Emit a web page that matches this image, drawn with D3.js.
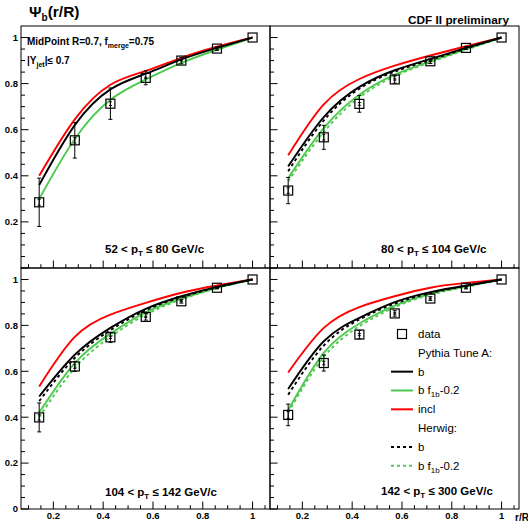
<!DOCTYPE html>
<html><head><meta charset="utf-8">
<script src="https://cdn.jsdelivr.net/npm/d3@7"></script>
<style>body{margin:0;background:#fff} svg text{font-family:"Liberation Sans",Arial,Helvetica,sans-serif}</style>
</head><body><svg id="c" width="528" height="523"></svg>
<script>
// r/R bin positions
const xVals = [0.143, 0.286, 0.429, 0.571, 0.714, 0.857, 1.0];
const xTicks = [0.2, 0.4, 0.6, 0.8, 1.0];
const xTickLabels = ["0.2", "0.4", "0.6", "0.8", "1"];
const yTicks = [0, 0.2, 0.4, 0.6, 0.8, 1.0];
const yTickLabels = ["0", "0.2", "0.4", "0.6", "0.8", "1"];

// pT bins
const ptLow = ["52", "80", "104", "142"];
const ptHigh = ["80", "104", "142", "300"];

// data (CDF II)
const dataTL = [0.285, 0.554, 0.713, 0.825, 0.900, 0.952, 1.0];
const errTL  = [0.105, 0.077, 0.068, 0.030, 0.014, 0.008, 0];
const statTL = [0.013, 0.012, 0.008, 0.003, 0.002, 0.002, 0];
const dataTR = [0.336, 0.567, 0.712, 0.818, 0.897, 0.955, 1.0];
const errTR  = [0.057, 0.052, 0.036, 0.016, 0.010, 0.006, 0];
const statTR = [0.012, 0.012, 0.006, 0.003, 0.002, 0.002, 0];
const dataBL = [0.399, 0.621, 0.748, 0.837, 0.905, 0.964, 1.0];
const errBL  = [0.063, 0.022, 0.022, 0.014, 0.008, 0.005, 0];
const statBL = [0.012, 0.008, 0.005, 0.003, 0.002, 0.002, 0];
const dataBR = [0.410, 0.636, 0.760, 0.852, 0.917, 0.964, 1.0];
const errBR  = [0.047, 0.035, 0.018, 0.012, 0.008, 0.005, 0];
const statBR = [0.015, 0.008, 0.005, 0.003, 0.002, 0.002, 0];

// Pythia Tune A: b, b f1b-0.2, incl ; Herwig: b, b f1b-0.2
const pyBTL    = [0.360, 0.620, 0.775, 0.843, 0.905, 0.955, 1.0];
const pyBfTL   = [0.300, 0.560, 0.730, 0.818, 0.890, 0.947, 1.0];
const pyInclTL = [0.400, 0.645, 0.795, 0.855, 0.912, 0.960, 1.0];

const pyBTR    = [0.441, 0.655, 0.786, 0.858, 0.907, 0.955, 1.0];
const pyBfTR   = [0.390, 0.607, 0.752, 0.839, 0.897, 0.950, 1.0];
const pyInclTR = [0.489, 0.710, 0.820, 0.878, 0.922, 0.962, 1.0];
const hwBTR    = [0.420, 0.640, 0.778, 0.852, 0.903, 0.952, 1.0];
const hwBfTR   = [0.376, 0.590, 0.740, 0.832, 0.893, 0.947, 1.0];

const pyBBL    = [0.490, 0.672, 0.789, 0.872, 0.927, 0.968, 1.0];
const pyBfBL   = [0.420, 0.636, 0.764, 0.857, 0.917, 0.964, 1.0];
const pyInclBL = [0.534, 0.750, 0.847, 0.898, 0.942, 0.974, 1.0];
const hwBBL    = [0.470, 0.658, 0.779, 0.866, 0.923, 0.965, 1.0];
const hwBfBL   = [0.400, 0.614, 0.750, 0.847, 0.913, 0.962, 1.0];

const pyBBR    = [0.523, 0.731, 0.833, 0.901, 0.945, 0.974, 1.0];
const pyBfBR   = [0.430, 0.680, 0.808, 0.886, 0.938, 0.970, 1.0];
const pyInclBR = [0.595, 0.789, 0.880, 0.927, 0.964, 0.985, 1.0];
const hwBBR    = [0.498, 0.712, 0.826, 0.895, 0.941, 0.972, 1.0];
const hwBfBR   = [0.420, 0.662, 0.796, 0.879, 0.934, 0.968, 1.0];

const GREEN = "#4dc94d", RED = "#ff0000", BLACK = "#000000";

const panels = [
  {x0:21, x1:270, y0:26, y1:268, yLab:true,  xLab:false, lx:105, ly:253, data:dataTL, err:errTL, stat:statTL,
   curves:[[pyInclTL,RED,null],[pyBfTL,GREEN,null],[pyBTL,BLACK,null]]},
  {x0:270, x1:519, y0:26, y1:268, yLab:false, xLab:false, lx:381, ly:253, data:dataTR, err:errTR, stat:statTR,
   curves:[[pyInclTR,RED,null],[hwBfTR,GREEN,"3,3"],[pyBfTR,GREEN,null],[hwBTR,BLACK,"3,3"],[pyBTR,BLACK,null]]},
  {x0:21, x1:270, y0:268, y1:509, yLab:true,  xLab:true, lx:105, ly:496, data:dataBL, err:errBL, stat:statBL,
   curves:[[pyInclBL,RED,null],[hwBfBL,GREEN,"3,3"],[pyBfBL,GREEN,null],[hwBBL,BLACK,"3,3"],[pyBBL,BLACK,null]]},
  {x0:270, x1:519, y0:268, y1:509, yLab:false, xLab:true, lx:381, ly:495, data:dataBR, err:errBR, stat:statBR,
   curves:[[pyInclBR,RED,null],[hwBfBR,GREEN,"3,3"],[pyBfBR,GREEN,null],[hwBBR,BLACK,"3,3"],[pyBBR,BLACK,null]]}
];

const svg = d3.select("#c");
const minorX = d3.range(0.10, 1.0701, 0.05);
const minorY = d3.range(0, 1.0001, 0.05);

panels.forEach((p, i) => {
  const x = d3.scaleLinear().domain([0.07, 1.07]).range([p.x0, p.x1]);
  const y = d3.scaleLinear().domain([0, 1.05]).range([p.y1, p.y0]);
  const g = svg.append("g");

  // curves
  const line = d3.line().x((d, k) => x(xVals[k])).y(d => y(d)).curve(d3.curveNatural);
  p.curves.forEach(([vals, col, dash]) => {
    g.append("path").attr("d", line(vals)).attr("fill", "none").attr("stroke", col)
      .attr("stroke-width", 1.9).attr("stroke-dasharray", dash);
  });

  // data: total error bars, stat bars, open squares
  p.data.forEach((v, k) => {
    const cx = x(xVals[k]), cy = y(v);
    if (p.err[k] > 0) {
      const yt = y(v + p.err[k]), yb = y(v - p.err[k]);
      g.append("line").attr("x1", cx).attr("x2", cx).attr("y1", yt).attr("y2", yb).attr("stroke", "#000").attr("stroke-width", 1);
      [yt, yb].forEach(yy => g.append("line").attr("x1", cx - 2).attr("x2", cx + 2).attr("y1", yy).attr("y2", yy).attr("stroke", "#000"));
    }
    if (p.stat[k] > 0) {
      const yt = y(v + p.stat[k]), yb = y(v - p.stat[k]);
      g.append("line").attr("x1", cx).attr("x2", cx).attr("y1", yt).attr("y2", yb).attr("stroke", "#000");
      [yt, yb].forEach(yy => g.append("line").attr("x1", cx - 1.5).attr("x2", cx + 1.5).attr("y1", yy).attr("y2", yy).attr("stroke", "#000"));
    }
    g.append("rect").attr("x", cx - 4.5).attr("y", cy - 4.5).attr("width", 9).attr("height", 9)
      .attr("fill", "none").attr("stroke", "#000").attr("stroke-width", 1.2);
  });

  // frame
  g.append("rect").attr("x", p.x0).attr("y", p.y0).attr("width", p.x1 - p.x0).attr("height", p.y1 - p.y0)
    .attr("fill", "none").attr("stroke", "#000").attr("stroke-width", 1);

  // x ticks (bottom, pointing up)
  minorX.forEach(t => {
    const major = xTicks.some(m => Math.abs(m - t) < 1e-6);
    g.append("line").attr("x1", x(t)).attr("x2", x(t)).attr("y1", p.y1).attr("y2", p.y1 - (major ? 7.5 : 3.8)).attr("stroke", "#000");
  });
  // y ticks (left, pointing right)
  minorY.forEach(t => {
    const major = yTicks.some(m => Math.abs(m - t) < 1e-6);
    g.append("line").attr("y1", y(t)).attr("y2", y(t)).attr("x1", p.x0).attr("x2", p.x0 + (major ? 7.5 : 4)).attr("stroke", "#000");
  });

  if (p.xLab) {
    xTicks.forEach((t, k) => g.append("text").attr("x", x(t)).attr("y", 518.5).attr("text-anchor", "middle")
      .attr("font-size", 9.5).attr("font-weight", "bold").text(xTickLabels[k]));
  }
  if (p.yLab) {
    yTicks.forEach((t, k) => {
      if (!p.xLab && t === 0) return;
      g.append("text").attr("x", 18).attr("y", y(t) + 3.4).attr("text-anchor", "end")
        .attr("font-size", 9.5).attr("font-weight", "bold").text(yTickLabels[k]);
    });
  }

  // pT label
  const t = g.append("text").attr("x", p.lx).attr("y", p.ly).attr("font-size", 11.5).attr("font-weight", "bold");
  t.append("tspan").text(ptLow[i] + " < p");
  t.append("tspan").attr("font-size", 8).attr("dy", 2.5).text("T");
  t.append("tspan").attr("dy", -2.5).text(" \u2264 " + ptHigh[i] + " GeV/c");
});

// title
const title = svg.append("text").attr("x", 29).attr("y", 17).attr("font-size", 15.5).attr("font-weight", "bold");
title.append("tspan").text("\u03A8");
title.append("tspan").attr("font-size", 10).attr("dy", 4).text("b");
title.append("tspan").attr("dy", -4).text("(r/R)");

svg.append("text").attr("x", 509).attr("y", 24).attr("text-anchor", "end").attr("font-size", 11.8)
  .attr("font-weight", "bold").text("CDF II preliminary");

const t1 = svg.append("text").attr("x", 27).attr("y", 45).attr("font-size", 10).attr("font-weight", "bold");
t1.append("tspan").text("MidPoint R=0.7, f");
t1.append("tspan").attr("font-size", 7).attr("dy", 2.5).text("merge");
t1.append("tspan").attr("dy", -2.5).text("=0.75");

const t2 = svg.append("text").attr("x", 27).attr("y", 64).attr("font-size", 10).attr("font-weight", "bold");
t2.append("tspan").text("|Y");
t2.append("tspan").attr("font-size", 7).attr("dy", 2.5).text("jet");
t2.append("tspan").attr("dy", -2.5).text("|\u2264 0.7");

svg.append("text").attr("x", 515).attr("y", 521).attr("font-size", 10).attr("font-weight", "bold").text("r/R");

// legend
const legendLabels = ["data", "Pythia Tune A:", "b", "b f|1b|-0.2", "incl", "Herwig:", "b", "b f|1b|-0.2"];
const legendStyles = [["box"], [null], [BLACK, null], [GREEN, null], [RED, null], [null], [BLACK, "3,3"], [GREEN, "3,3"]];
const legendRows = d3.scaleLinear().domain([0, 7]).range([334, 465.8]);
legendLabels.forEach((lab, k) => {
  const yy = legendRows(k);
  const st = legendStyles[k];
  if (st[0] === "box") {
    svg.append("rect").attr("x", 397.5).attr("y", yy - 4.5).attr("width", 9).attr("height", 9).attr("fill", "none").attr("stroke", "#000").attr("stroke-width", 1.2);
  } else if (st[0]) {
    svg.append("line").attr("x1", 391).attr("x2", 413).attr("y1", yy).attr("y2", yy).attr("stroke", st[0]).attr("stroke-width", 2).attr("stroke-dasharray", st[1]);
  }
  const tx = svg.append("text").attr("x", 418).attr("y", yy + 4).attr("font-size", 11.5);
  const parts = lab.split("|");
  if (parts.length === 3) {
    tx.append("tspan").text(parts[0]);
    tx.append("tspan").attr("font-size", 8).attr("dy", 3).text(parts[1]);
    tx.append("tspan").attr("dy", -3).text(parts[2]);
  } else tx.text(lab);
});
</script></body></html>
